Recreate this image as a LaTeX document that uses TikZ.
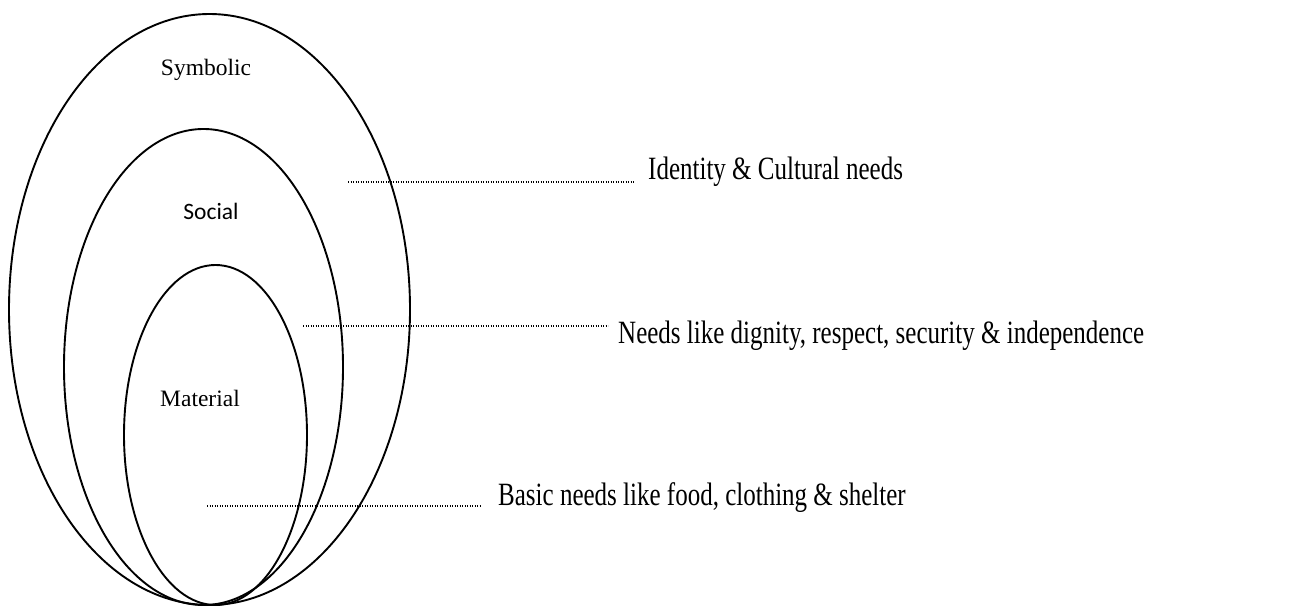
\documentclass[tikz,border=0pt]{standalone}
\usepackage{graphicx}
\usepackage{fontspec}
\setmainfont{Liberation Serif}
\newfontfamily\calib{Carlito}
\begin{document}
\begin{tikzpicture}[x=1pt,y=-1pt,
  ring/.style={line width=1.9pt},
  dotline/.style={line width=1.2pt,dash pattern=on 1.2pt off 1.3pt},
  small/.style={inner sep=0pt,font=\fontsize{23.5}{28}\selectfont},
  big/.style={inner sep=0pt,anchor=base west,font=\fontsize{25}{30}\selectfont}]
\useasboundingbox (0,0) rectangle (1304,607);
% ellipses
\draw[ring] (209.5,309.5) ellipse [x radius=200.5, y radius=295.5];
\draw[ring] (203.5,367) ellipse [x radius=139.5, y radius=238];
\draw[ring] (215.5,435) ellipse [x radius=91.5, y radius=170];
% ring labels
\node[small] (sym) at (206,70) {Symbolic};
\node[small,font=\calib\fontsize{23.5}{28}\selectfont] (soc) at (211,211) {Social};
\node[small] (mat) at (200,398) {Material};
% right texts
\node[big] (t1) at (648,179) {\scalebox{1}[1.3]{Identity \& Cultural needs}};
\node[big] (t2) at (618,343) {\scalebox{1}[1.3]{Needs like dignity, respect, security \& independence}};
\node[big] (t3) at (498,505) {\scalebox{1}[1.3]{Basic needs like food, clothing \& shelter}};
% dotted leaders
\coordinate (d1) at (348,182);
\coordinate (d2) at (303,326);
\coordinate (d3) at (207,506);
\draw[dotline] (d1) -- ([xshift=-13pt]t1.west |- d1);
\draw[dotline] (d2) -- ([xshift=-10pt]t2.west |- d2);
\draw[dotline] (d3) -- ([xshift=-18pt]t3.west |- d3);
\end{tikzpicture}
\end{document}
